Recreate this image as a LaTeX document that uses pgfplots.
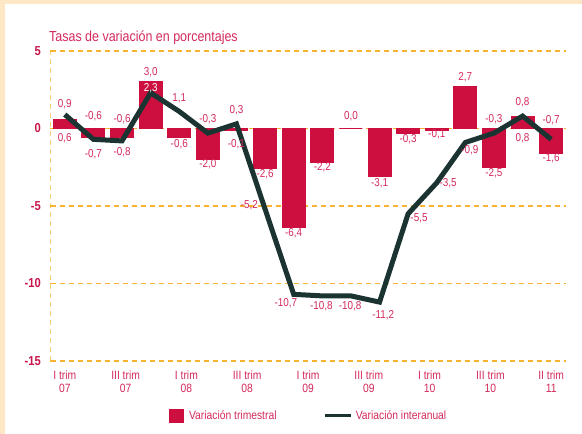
\documentclass[border=0pt]{standalone}
\usepackage{pgfplots}
\usepackage{pgfplotstable}
\pgfplotsset{compat=1.18}
\usepackage{fontspec}
\setmainfont{Liberation Sans}[FakeStretch=0.86]
\definecolor{barcol}{HTML}{CC0F3F}
\definecolor{txtcol}{HTML}{D42A5C}
\definecolor{ticol}{HTML}{C8154A}
\definecolor{linecol}{HTML}{1C3431}
\definecolor{gridcol}{HTML}{F8B333}
\definecolor{peach}{HTML}{FDE7C4}

\pgfplotstableread{
x bar line
0 0.6 0.9
1 -0.6 -0.7
2 -0.6 -0.8
3 3.0 2.3
4 -0.6 1.1
5 -2.0 -0.3
6 -0.1 0.3
7 -2.6 -5.2
8 -6.4 -10.7
9 -2.2 -10.8
10 0.0 -10.8
11 -3.1 -11.2
12 -0.3 -5.5
13 -0.1 -3.5
14 2.7 -0.9
15 -2.5 -0.3
16 0.8 0.8
17 -1.6 -0.7
}\datatable

\pgfplotstableread{
x y lab
0 1.55 0,9
0 -0.6 0,6
1 0.76 -0,6
1 -1.68 -0,7
2 0.58 -0,6
2 -1.53 -0,8
3 3.66 3,0
4 1.98 1,1
4 -0.99 -0,6
5 0.62 -0,3
5 -2.33 -2,0
6 1.16 0,3
6 -0.99 -0,1
7 -2.97 -2,6
6.45 -4.98 -5,2
8 -6.74 -6,4
7.73 -11.27 -10,7
8.97 -11.44 -10,8
9 -2.48 -2,2
9.97 -11.44 -10,8
10 0.76 0,0
11 -3.51 -3,1
11.13 -12.02 -11,2
12 -0.71 -0,3
12.38 -5.77 -5,5
13 -0.39 -0,1
13.4 -3.56 -3,5
14 3.28 2,7
14.16 -1.4 -0,9
15 0.62 -0,3
15 -2.87 -2,5
16 1.7 0,8
16 -0.6 0,8
17 0.54 -0,7
17 -1.9 -1,6
}\labtable

\pgfplotstableread{
x y lab
3 2.63 2,3
}\whitelab

\begin{document}
\begin{tikzpicture}
\useasboundingbox (0bp,0bp) rectangle (582bp,434bp);
\fill[white] (-20bp,-20bp) rectangle (602bp,454bp);
\fill[peach] (-20bp,-20bp) rectangle (4.5bp,454bp);
\fill[peach] (-20bp,429.5bp) rectangle (602bp,454bp);
\node[anchor=base west, inner sep=0pt, text=txtcol, font=\fontsize{14.5bp}{16bp}\selectfont] at (49bp,392bp) {Tasas de variación en porcentajes};
\begin{axis}[
  at={(50.5bp,73bp)}, anchor=south west, scale only axis,
  width=515bp, height=310bp,
  xmin=-0.5, xmax=17.5, ymin=-15, ymax=5,
  axis line style={draw=none},
  major tick length=0pt,
  ymajorgrids,
  grid style={gridcol, dash pattern=on 5bp off 4bp, line width=1.4bp},
  ytick={-15,-10,-5,0,5},
  yticklabels={-15,-10,-5,0,5},
  yticklabel style={font=\bfseries\fontsize{13bp}{14bp}\selectfont, text=ticol, inner sep=0pt, anchor=east, xshift=-9.5bp},
  xtick={0,2.125,4.25,6.375,8.5,10.625,12.75,14.875,17},
  xticklabels={I trim\\07, III trim\\07, I trim\\08, III trim\\08, I trim\\09, III trim\\09, I trim\\10, III trim\\10, II trim\\11},
  xticklabel style={align=center, font=\fontsize{12bp}{13bp}\selectfont, text=txtcol, inner sep=0pt, anchor=north, yshift=-9.5bp},
  legend columns=2,
  legend cell align=left,
  legend style={at={(0.224,-0.176)}, anchor=west, draw=none, fill=none,
    font=\fontsize{12bp}{14bp}\selectfont, text=txtcol,
    nodes={inner sep=0pt},
    /tikz/every even column/.append style={column sep=47bp}},
  every node near coord/.append style={anchor=center, inner sep=0pt, font=\fontsize{11.5bp}{13bp}\selectfont},
]
\addplot[ybar, bar width=23bp, fill=barcol, draw=barcol, line width=1bp,
  legend image code/.code={\fill[barcol] (0bp,-6.5bp) rectangle (14bp,6.5bp); \path (19bp,0bp);}]
  table[x=x, y=bar] {\datatable};
\addlegendentry{Variación trimestral}
\addplot[linecol, line width=5bp, line join=miter, mark=none,
  legend image code/.code={\draw[linecol, line width=3.5bp] (0bp,0bp) -- (26bp,0bp); \path (28bp,0bp);}]
  table[x=x, y=line] {\datatable};
\addlegendentry{Variación interanual}
\addplot[draw=none, mark=none, forget plot, nodes near coords, point meta=explicit symbolic,
  every node near coord/.append style={text=txtcol}]
  table[x=x, y=y, meta=lab] {\labtable};
\addplot[draw=none, mark=none, forget plot, nodes near coords, point meta=explicit symbolic,
  every node near coord/.append style={text=white}]
  table[x=x, y=y, meta=lab] {\whitelab};
\draw[gridcol, dash pattern=on 5bp off 4bp, line width=1.4bp] (rel axis cs:0,0) -- (rel axis cs:0,1);
\end{axis}
\end{tikzpicture}
\end{document}
